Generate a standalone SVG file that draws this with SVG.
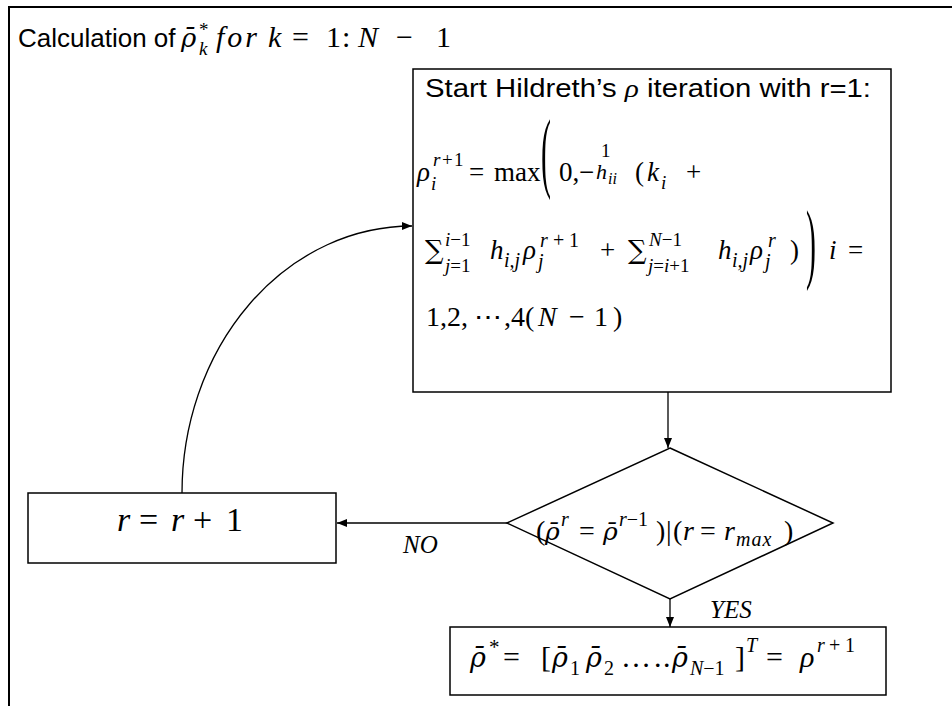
<svg xmlns="http://www.w3.org/2000/svg" width="952" height="706" viewBox="0 0 952 706">
<style>
.lbl{font-family:"Liberation Sans",Arial,sans-serif;fill:#000}
.m{font-family:"Liberation Serif","Times New Roman",serif;fill:#000}
.it{font-style:italic}
.rb{font-family:"DejaVu Serif",serif;font-style:italic}
.sg{font-family:"DejaVu Serif",serif;font-style:normal}
.box{fill:#fff;stroke:#000;stroke-width:1.5}
.edge{fill:none;stroke:#000;stroke-width:1.3}
.frame{fill:none;stroke:#000;stroke-width:2}
</style>
<defs>
<marker id="ah" viewBox="0 0 10 10" refX="10" refY="5" markerWidth="10" markerHeight="10" markerUnits="userSpaceOnUse" orient="auto"><path d="M0,1 L10,5 L0,9 z" fill="#000"/></marker>
</defs>
<rect width="952" height="706" fill="#fff"/>
<path class="frame" d="M952,7 H9 V706"/>

<g id="title">
<text class="lbl" x="18" y="47" font-size="26">Calculation of</text>
<text class="m it" font-size="30" y="47"><tspan x="181" class="rb" font-size="26">ρ̄</tspan><tspan x="199" y="36" font-size="19" font-style="normal">*</tspan><tspan x="199" y="55" font-size="19">k</tspan><tspan x="216" y="47" letter-spacing="3">for</tspan><tspan x="268">k</tspan><tspan x="292" font-style="normal">=</tspan><tspan x="326" font-style="normal">1</tspan><tspan x="342" font-style="normal">:</tspan><tspan x="358">N</tspan><tspan x="396" font-style="normal">−</tspan><tspan x="436" font-style="normal">1</tspan></text>
</g>

<g id="connectors">
<path class="edge" d="M668,392 V448" marker-end="url(#ah)"/>
<path class="edge" d="M670,599 V627" marker-end="url(#ah)"/>
<path class="edge" d="M507,523 H337" marker-end="url(#ah)"/>
<path class="edge" d="M182,493 A230,267 0 0 1 412,226" marker-end="url(#ah)"/>
</g>

<g id="hildreth">
<rect class="box" x="413" y="69" width="478" height="323"/>
<text class="lbl" x="425" y="97" font-size="26" textLength="446" lengthAdjust="spacingAndGlyphs">Start Hildreth’s <tspan class="m it">ρ</tspan> iteration with r=1:</text>
<text class="m" font-size="27" y="181">
<tspan x="417" class="it">ρ</tspan><tspan x="431" y="190" font-size="19" class="it">i</tspan><tspan x="433" y="166" font-size="19" class="it">r</tspan><tspan x="442" font-size="19">+</tspan><tspan x="454" font-size="19">1</tspan><tspan x="469" y="181">=</tspan><tspan x="494">max</tspan><tspan x="559">0,</tspan><tspan x="579">−</tspan><tspan x="601" y="157" font-size="19">1</tspan><tspan x="596" y="179" font-size="22" class="it">h</tspan><tspan x="608" y="184" font-size="16" class="it">ii</tspan><tspan x="635" y="181">(</tspan><tspan x="647" class="it">k</tspan><tspan x="661" y="189" font-size="19" class="it">i</tspan><tspan x="686" y="181">+</tspan>
</text>
<text class="m" font-size="26" transform="translate(541,181) scale(1.15,3.45)">(</text>
<text class="m" font-size="27" y="259">
<tspan x="425" class="sg" font-size="26">∑</tspan><tspan x="445" y="246" font-size="19"><tspan class="it">i</tspan>−1</tspan><tspan x="445" y="272" font-size="19"><tspan class="it">j</tspan>=1</tspan><tspan x="490" y="259" class="it">h</tspan><tspan x="504" y="267" font-size="20" class="it">i,j</tspan><tspan x="523" y="259" class="it">ρ</tspan><tspan x="538" y="268" font-size="20" class="it">j</tspan><tspan x="540" y="247" font-size="20" class="it">r</tspan><tspan x="553" font-size="20">+</tspan><tspan x="569" font-size="20">1</tspan><tspan x="600" y="259">+</tspan><tspan x="628" class="sg" font-size="26">∑</tspan><tspan x="649" y="246" font-size="19"><tspan class="it">N</tspan>−1</tspan><tspan x="648" y="272" font-size="19"><tspan class="it">j</tspan>=<tspan class="it">i</tspan>+1</tspan><tspan x="718" y="259" class="it">h</tspan><tspan x="732" y="267" font-size="20" class="it">i,j</tspan><tspan x="750" y="259" class="it">ρ</tspan><tspan x="765" y="268" font-size="20" class="it">j</tspan><tspan x="768" y="247" font-size="20" class="it">r</tspan><tspan x="790" y="259">)</tspan><tspan x="829" class="it">i</tspan><tspan x="848">=</tspan>
</text>
<text class="m" font-size="26" transform="translate(806,272) scale(1.15,3.45)">)</text>
<text class="m" font-size="28" y="326"><tspan x="426">1,2,</tspan><tspan x="474">⋯</tspan><tspan x="504">,4(</tspan><tspan x="538" class="it">N</tspan><tspan x="569">−</tspan><tspan x="594">1</tspan><tspan x="613">)</tspan></text>
</g>

<g id="decision">
<path class="box" d="M670,448 L833,523 L670,599 L507,523 Z"/>
<text class="m" font-size="28" y="540"><tspan x="536">(</tspan><tspan x="545" class="rb" font-size="25">ρ̄</tspan><tspan x="561" y="526" font-size="20" class="it">r</tspan><tspan x="579" y="540">=</tspan><tspan x="603" class="rb" font-size="25">ρ̄</tspan><tspan x="619" y="526" font-size="20"><tspan class="it">r</tspan>−1</tspan><tspan x="656" y="540">)</tspan><tspan x="666">|</tspan><tspan x="673">(</tspan><tspan x="683" class="it">r</tspan><tspan x="700">=</tspan><tspan x="724" class="it">r</tspan><tspan x="736" y="546" font-size="20" class="it" letter-spacing="1">max</tspan><tspan x="784" y="540">)</tspan></text>
</g>

<g id="increment">
<rect class="box" x="28" y="493" width="308" height="70"/>
<text class="m" font-size="34" y="531"><tspan x="117" class="it">r</tspan><tspan x="139">=</tspan><tspan x="171" class="it">r</tspan><tspan x="193">+</tspan><tspan x="226">1</tspan></text>
</g>

<g id="result">
<rect class="box" x="450" y="627" width="436" height="68"/>
<text class="m" font-size="30" y="667"><tspan x="470" class="rb" font-size="27">ρ̄</tspan><tspan x="489" y="654" font-size="21">*</tspan><tspan x="503" y="667">=</tspan><tspan x="541">[</tspan><tspan x="552" class="rb" font-size="27">ρ̄</tspan><tspan x="570" y="675" font-size="20">1</tspan><tspan x="586" y="667" class="rb" font-size="27">ρ̄</tspan><tspan x="604" y="675" font-size="20">2</tspan><tspan x="621" y="667">…</tspan><tspan x="654">.</tspan><tspan x="663">.</tspan><tspan x="672" class="rb" font-size="27">ρ̄</tspan><tspan x="690" y="675" font-size="20"><tspan class="it">N</tspan>−1</tspan><tspan x="735" y="667">]</tspan><tspan x="746" y="652" font-size="20" class="it">T</tspan><tspan x="766" y="667">=</tspan><tspan x="800" class="it">ρ</tspan><tspan x="817" y="652" font-size="20" class="it">r</tspan><tspan x="829" font-size="20">+</tspan><tspan x="845" font-size="20">1</tspan></text>
</g>

<g id="labels">
<text class="m it" x="403" y="553" font-size="25">NO</text>
<text class="m it" x="710" y="618" font-size="25">YES</text>
</g>
</svg>
